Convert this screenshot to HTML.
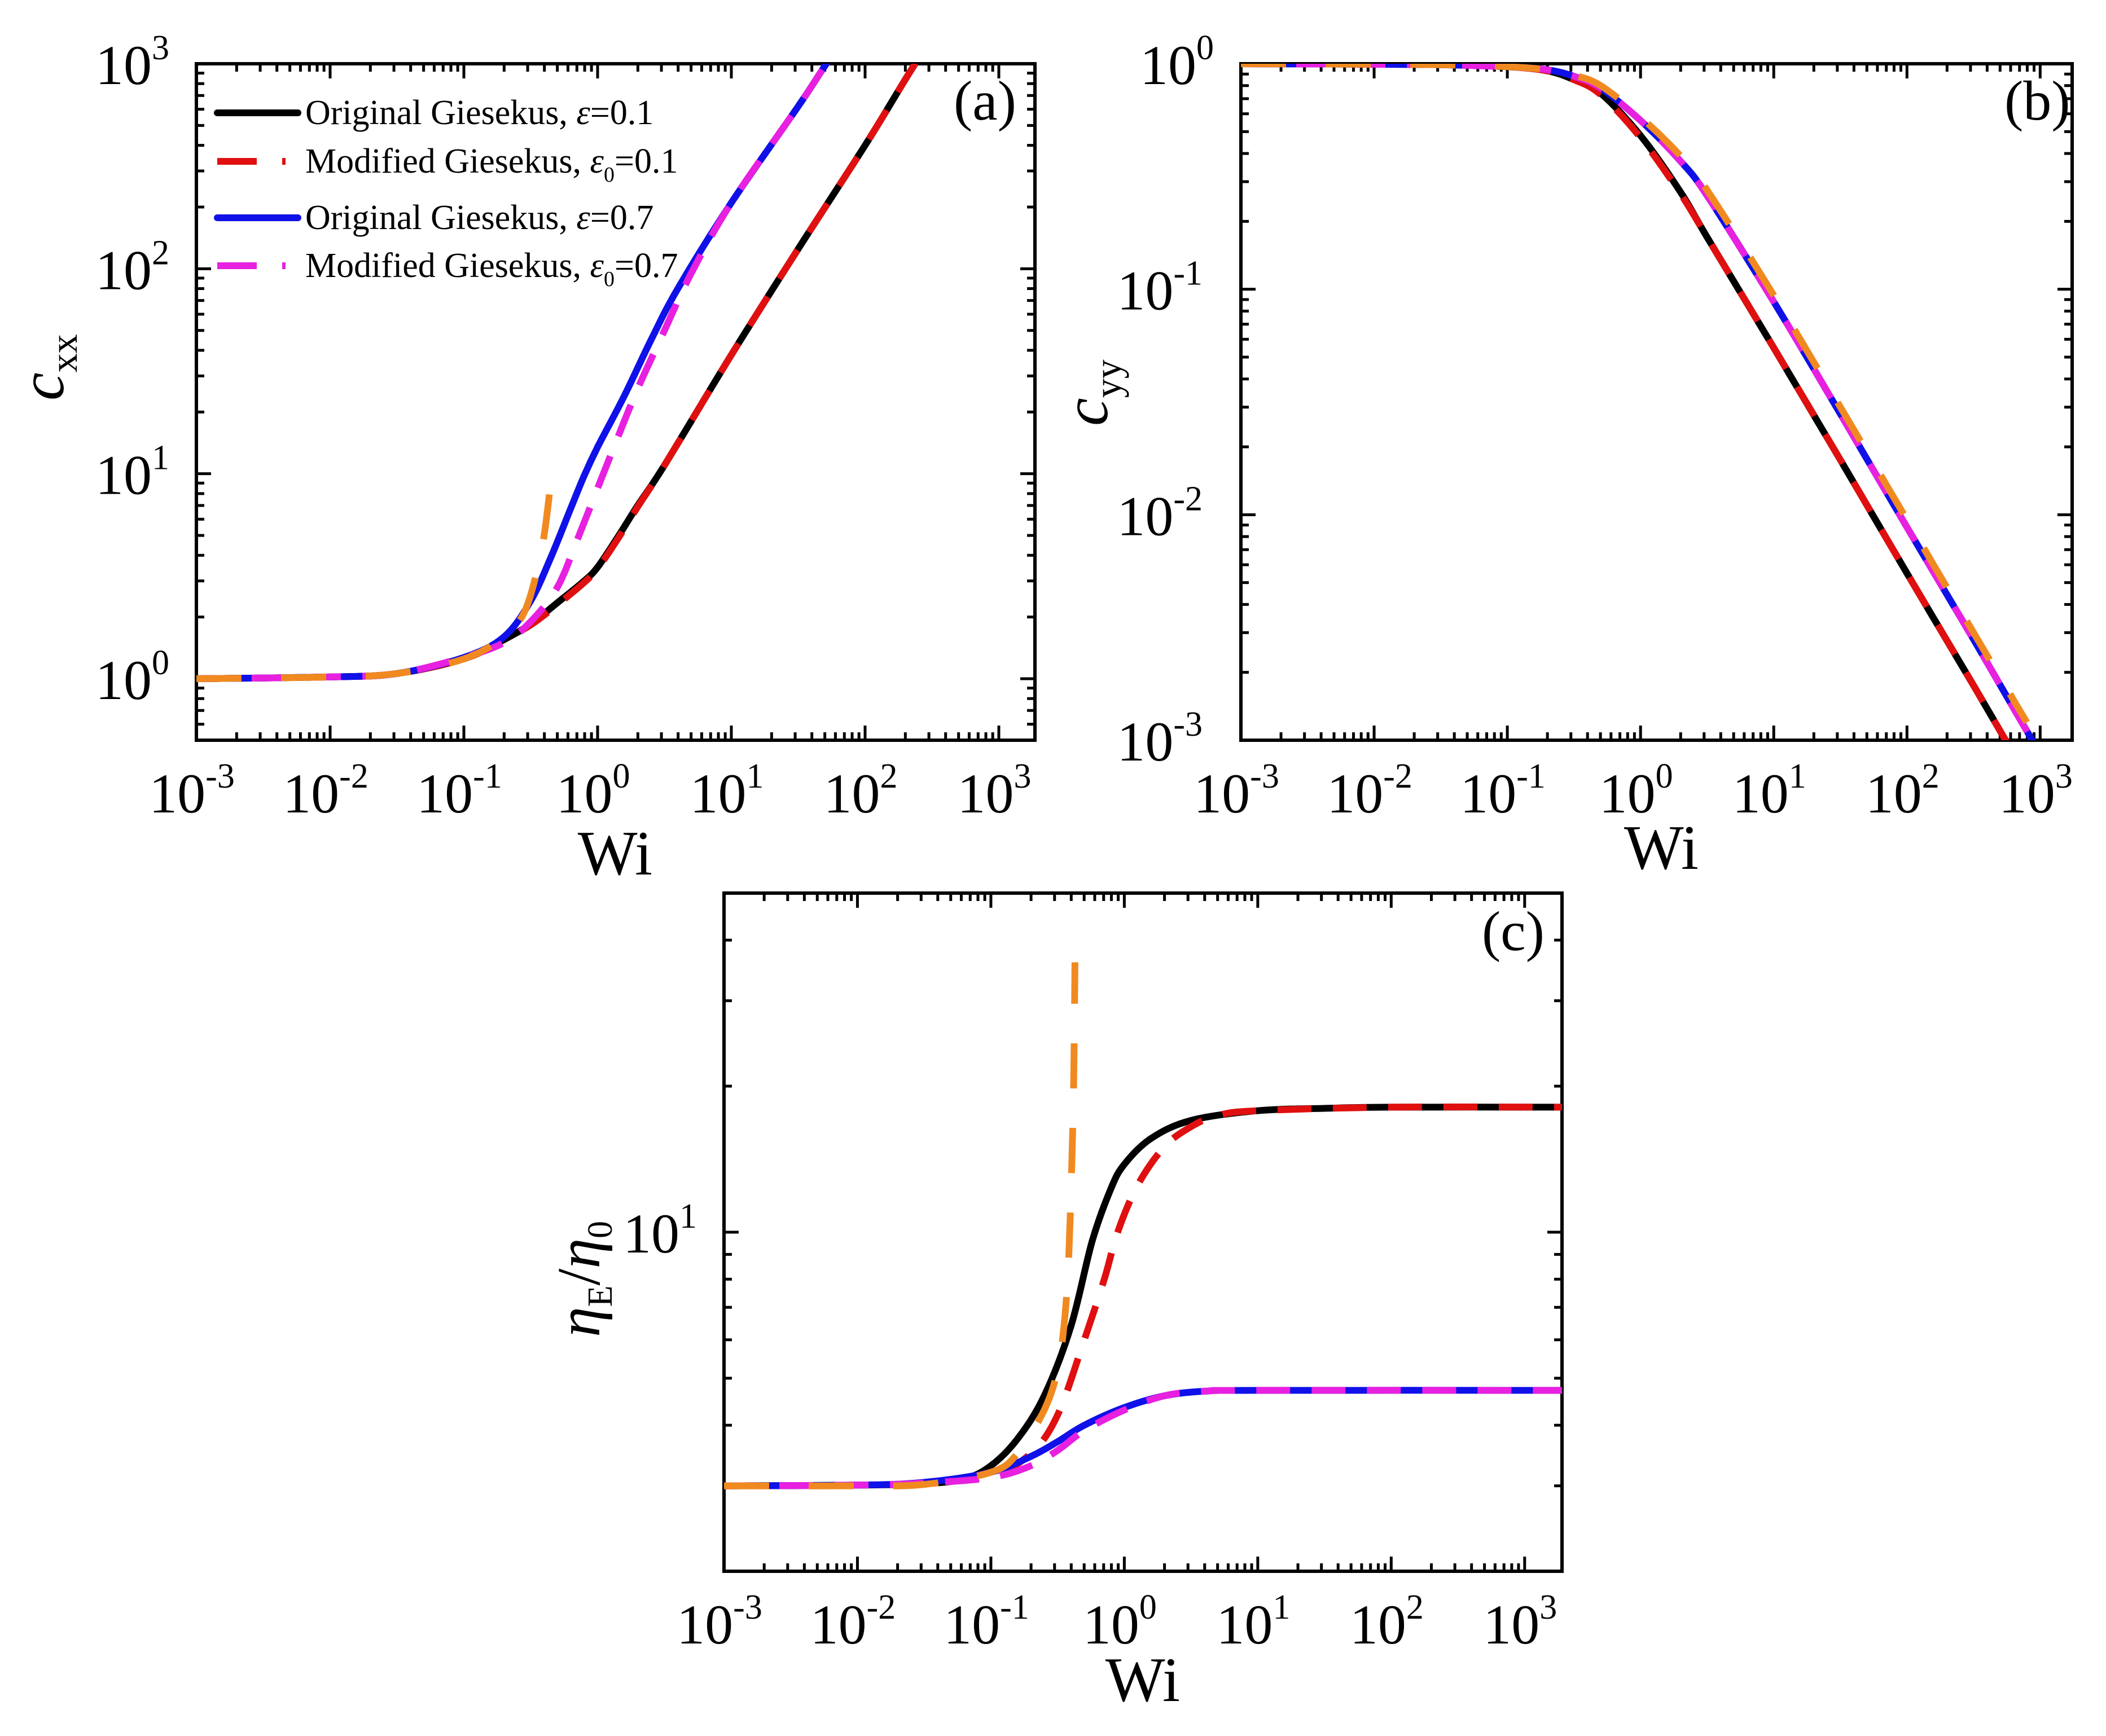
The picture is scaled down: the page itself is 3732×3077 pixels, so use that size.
<!DOCTYPE html>
<html><head><meta charset="utf-8">
<style>
html,body{margin:0;padding:0;background:#fff;}
svg{display:block;font-family:"Liberation Serif","DejaVu Serif",serif;}
</style></head>
<body>
<svg id="fig" width="3732" height="3077" viewBox="0 0 3732 3077" xmlns="http://www.w3.org/2000/svg">
<rect width="3732" height="3077" fill="#fff"/>
<defs>
<clipPath id="clipA"><rect x="348" y="113" width="1486" height="1199"/></clipPath>
<clipPath id="clipB"><rect x="2199" y="113" width="1473" height="1199"/></clipPath>
<clipPath id="clipC"><rect x="1283" y="1583" width="1485" height="1202"/></clipPath>
</defs>
<g id="panelA"></g>
<g id="panelB"></g>
<g id="panelC"></g>
<g id="legend">
  <line x1="385" y1="200" x2="528" y2="200" stroke="#000" stroke-width="12" stroke-linecap="round"/>
  <text x="541" y="220" font-size="62">Original Giesekus, <tspan font-style="italic">ε</tspan>=0.1</text>
  <line x1="385" y1="286" x2="528" y2="286" stroke="#e01010" stroke-width="12" stroke-dasharray="70 45 6 60"/>
  <text x="541" y="306" font-size="62">Modified Giesekus, <tspan font-style="italic">ε</tspan><tspan font-size="38" dy="16">0</tspan><tspan dy="-16">=0.1</tspan></text>
  <line x1="385" y1="386" x2="528" y2="386" stroke="#1010e8" stroke-width="12" stroke-linecap="round"/>
  <text x="541" y="406" font-size="62">Original Giesekus, <tspan font-style="italic">ε</tspan>=0.7</text>
  <line x1="385" y1="471" x2="528" y2="471" stroke="#e820e0" stroke-width="12" stroke-dasharray="70 45 6 60"/>
  <text x="541" y="491" font-size="62">Modified Giesekus, <tspan font-style="italic">ε</tspan><tspan font-size="38" dy="16">0</tspan><tspan dy="-16">=0.7</tspan></text>
</g>
</svg>
<script>
// ---------- Panel (a) data: c_xx vs Wi (log10 Wi) ----------
const aBlackX = [-3,-2,-1.5,-1,-0.7,-0.5,-0.3,-0.1,0,0.15,0.3,0.5,1,1.5,2,2.33,2.6];
const aBlackY = [1.0,1.02,1.06,1.25,1.55,1.85,2.35,3.0,3.5,4.9,7,11,38,125,400,900,1700];
const aRedX = [-3,-2,-1.5,-1,-0.7,-0.5,-0.3,-0.1,0,0.15,0.3,0.5,1,1.5,2,2.33,2.6];
const aRedY = [1.0,1.02,1.06,1.25,1.55,1.83,2.3,2.95,3.45,4.8,6.9,11,38,125,400,900,1700];
const aBlueX = [-3,-2,-1.5,-1,-0.7,-0.5,-0.35,-0.2,-0.1,0,0.2,0.4,0.6,1,1.5,1.71,2];
const aBlueY = [1.0,1.02,1.06,1.27,1.6,2.4,3.9,6.8,9.8,13.5,24,45,80,210,620,1000,1900];
const aMagX = [-3,-2,-1.5,-1,-0.7,-0.5,-0.3,-0.15,0,0.15,0.3,0.5,0.7,1,1.5,1.71,2];
const aMagY = [1.0,1.02,1.06,1.27,1.5,1.9,2.8,4.8,8.5,15,26,50,95,210,620,1000,1900];
const aOrgX = [-3,-2,-1.5,-1,-0.7,-0.55,-0.45,-0.4,-0.36,-0.33];
const aOrgY = [1.0,1.02,1.06,1.25,1.6,2.1,3.4,5,8,12];
// ---------- Panel (b) data: c_yy vs Wi ----------
const bBlackX = [-3,-2,-1.5,-1,-0.7,-0.5,-0.3,0,0.3,0.5,1,1.5,2,2.5,2.74,3];
const bBlackY = [1,0.995,0.99,0.97,0.93,0.85,0.74,0.48,0.27,0.17,0.055,0.0175,0.0055,0.00175,0.001,0.00055];
const bRedX = bBlackX.slice();
const bRedY = [1,0.995,0.99,0.97,0.93,0.85,0.73,0.47,0.265,0.17,0.055,0.0175,0.0055,0.00175,0.001,0.00055];
const bBlueX = [-3,-2,-1.5,-1,-0.7,-0.5,-0.3,0,0.3,0.5,1,1.5,2,2.5,2.94,3.2];
const bBlueY = [1,0.995,0.99,0.97,0.94,0.88,0.78,0.56,0.37,0.26,0.088,0.028,0.0088,0.0028,0.001,0.00055];
const bMagX = bBlueX.slice();
const bMagY = [1,0.995,0.99,0.97,0.94,0.88,0.78,0.56,0.37,0.26,0.088,0.028,0.0088,0.0028,0.001,0.00055];
const bOrgX = [-3,-2,-1.5,-1,-0.7,-0.5,-0.3,0,0.3,0.5,1,1.5,2,2.5,2.9];
const bOrgY = [1,0.995,0.99,0.97,0.94,0.89,0.8,0.58,0.39,0.275,0.094,0.03,0.0095,0.003,0.0012];
// ---------- Panel (c) data: eta_E/eta_0 vs Wi ----------
const cBlackX = [-3,-2,-1.5,-1.2,-1,-0.8,-0.6,-0.4,-0.24,-0.1,0,0.2,0.5,1,1.5,2,3.3];
const cBlackY = [3,3.01,3.03,3.1,3.3,3.75,4.6,6.4,9.6,12.3,13.8,15.6,17,17.8,18,18.1,18.1];
const cRedX = [-3,-2,-1.5,-1,-0.7,-0.5,-0.3,-0.15,-0.05,0.1,0.3,0.5,0.7,1,2,3.3];
const cRedY = [3,3.01,3.04,3.15,3.5,4.2,6,8,10,12.5,15,16.5,17.4,17.8,18.1,18.1];
const cBlueX = [-3,-2,-1.5,-1,-0.7,-0.5,-0.3,0,0.3,0.6,1,3.3];
const cBlueY = [3,3.01,3.05,3.2,3.45,3.7,4.0,4.35,4.6,4.7,4.72,4.72];
const cMagX = [-3,-2,-1.5,-1,-0.7,-0.5,-0.3,0,0.3,0.6,1,3.3];
const cMagY = [3,3.01,3.04,3.12,3.3,3.55,3.9,4.3,4.6,4.7,4.72,4.72];
const cOrgX = [-3,-2,-1.5,-1,-0.8,-0.6,-0.5,-0.45,-0.42,-0.4,-0.38,-0.37];
const cOrgY = [3,3.0,3.02,3.2,3.5,4.3,5.2,6.5,8.5,12,20,36];
// ---------- axis tick labels ----------
const xTickExps = [-3,-2,-1,0,1,2,3];
const aYTickExps = [0,1,2,3];
const bYTickExps = [-3,-2,-1,0];
const cYTickExps = [1];

const NS = "http://www.w3.org/2000/svg";
function mk(tag, attrs, parent){const e=document.createElementNS(NS,tag);for(const k in attrs)e.setAttribute(k,attrs[k]);parent.appendChild(e);return e;}

const panels = {
  a:{g:document.getElementById('panelA'),l:348,r:1834,t:113,b:1312,x0:-3,x1:3.27,y0:-0.3,y1:3,clip:'clipA'},
  b:{g:document.getElementById('panelB'),l:2199,r:3672,t:113,b:1312,x0:-3,x1:3.24,y0:-3,y1:0,clip:'clipB'},
  c:{g:document.getElementById('panelC'),l:1283,r:2768,t:1583,b:2785,x0:-3,x1:3.28,y0:Math.log10(2),y1:Math.log10(50),clip:'clipC'}
};
function sx(p,lx){return p.l+(lx-p.x0)/(p.x1-p.x0)*(p.r-p.l);}
function sy(p,v){return p.b-(Math.log10(v)-p.y0)/(p.y1-p.y0)*(p.b-p.t);}

function drawAxes(p, key){
  const g=p.g;
  const lo=Math.floor(p.x0), hi=Math.ceil(p.x1);
  for(let d=lo; d<=hi; d++){
    for(let m=1;m<=9;m++){
      const lx=d+Math.log10(m); if(lx<p.x0-1e-9||lx>p.x1+1e-9) continue;
      const x=sx(p,lx), len=(m===1)?26:14;
      const t1=mk('line',{x1:x,y1:p.b,x2:x,y2:p.b-len,stroke:'#000','stroke-width':5},g);
      
      
      const t2=mk('line',{x1:x,y1:p.t,x2:x,y2:p.t+len,stroke:'#000','stroke-width':5},g);
      
      
    }
  }
  const ylo=Math.floor(p.y0), yhi=Math.ceil(p.y1);
  for(let d=ylo; d<=yhi; d++){
    for(let m=1;m<=9;m++){
      const ly=d+Math.log10(m); if(ly<p.y0-1e-9||ly>p.y1+1e-9) continue;
      const y=sy(p,Math.pow(10,ly)), len=(m===1)?26:14;
      const t1=mk('line',{x1:p.l,y1:y,x2:p.l+len,y2:y,stroke:'#000','stroke-width':5},g);
      
      
      const t2=mk('line',{x1:p.r,y1:y,x2:p.r-len,y2:y,stroke:'#000','stroke-width':5},g);
      
      
    }
  }
  const frame=mk('rect',{x:p.l,y:p.t,width:p.r-p.l,height:p.b-p.t,fill:'none',stroke:'#000','stroke-width':6},g);
  
  
  xTickExps.forEach(e=>{
    const x=sx(p,e);
    const t=mk('text',{x:x-8,y:p.b+128,'font-size':100,'text-anchor':'middle'},g);
    
    
    t.appendChild(document.createTextNode('10'));
    const s=mk('tspan',{dy:-44,'font-size':62},t); s.textContent=String(e);
  });
  const yt = key==='a'?aYTickExps:(key==='b'?bYTickExps:cYTickExps);
  yt.forEach(e=>{
    const y=sy(p,Math.pow(10,e));
    const t=mk('text',{x:p.l-16-(e<0?52:32),y:y+36,'font-size':100,'text-anchor':'end'},g);
    
    
    t.appendChild(document.createTextNode('10'));
    const s=mk('tspan',{dy:-44,'font-size':62},t); s.textContent=String(e);
  });
}

function pathD(p,X,Y){
  const pts=X.map((lx,i)=>[sx(p,lx),sy(p,Y[i])]);
  let d='M'+pts[0][0].toFixed(1)+','+pts[0][1].toFixed(1);
  for(let i=0;i<pts.length-1;i++){
    const p0=pts[Math.max(0,i-1)],p1=pts[i],p2=pts[i+1],p3=pts[Math.min(pts.length-1,i+2)];
    const c1=[p1[0]+(p2[0]-p0[0])/6,p1[1]+(p2[1]-p0[1])/6];
    const c2=[p2[0]-(p3[0]-p1[0])/6,p2[1]-(p3[1]-p1[1])/6];
    d+=' C'+c1[0].toFixed(1)+','+c1[1].toFixed(1)+' '+c2[0].toFixed(1)+','+c2[1].toFixed(1)+' '+p2[0].toFixed(1)+','+p2[1].toFixed(1);
  }
  return d;
}
function series(p,X,Y,color,dash,name){
  const e=mk('path',{d:pathD(p,X,Y),fill:'none',stroke:color,'stroke-width':12,'clip-path':'url(#'+p.clip+')','stroke-linejoin':'round'},p.g);
  if(dash) e.setAttribute('stroke-dasharray',dash);
  
  
}
const BLACK='#000', RED='#e01010', BLUE='#1010e8', MAG='#e820e0', ORG='#f08a20';
const DASH='60 38', ODASH='80 70';

drawAxes(panels.a,'a');
series(panels.a,aBlackX,aBlackY,BLACK,null,'line-original-0.1');
series(panels.a,aRedX,aRedY,RED,DASH,'line-modified-0.1');
series(panels.a,aBlueX,aBlueY,BLUE,null,'line-original-0.7');
series(panels.a,aMagX,aMagY,MAG,DASH,'line-modified-0.7');
series(panels.a,aOrgX,aOrgY,ORG,ODASH,'line-ucm-limit');

drawAxes(panels.b,'b');
series(panels.b,bBlackX,bBlackY,BLACK,null,'line-original-0.1');
series(panels.b,bRedX,bRedY,RED,DASH,'line-modified-0.1');
series(panels.b,bBlueX,bBlueY,BLUE,null,'line-original-0.7');
series(panels.b,bMagX,bMagY,MAG,DASH,'line-modified-0.7');
series(panels.b,bOrgX,bOrgY,ORG,ODASH,'line-ucm-limit');

drawAxes(panels.c,'c');
series(panels.c,cBlackX,cBlackY,BLACK,null,'line-original-0.1');
series(panels.c,cRedX,cRedY,RED,DASH,'line-modified-0.1');
series(panels.c,cBlueX,cBlueY,BLUE,null,'line-original-0.7');
series(panels.c,cMagX,cMagY,MAG,DASH,'line-modified-0.7');
series(panels.c,cOrgX,cOrgY,ORG,ODASH,'line-ucm-limit');

const svg=document.getElementById('fig');
function label(txt,attrs,name,parts){
  const t=mk('text',attrs,svg);
  
  
  if(parts){parts.forEach(pt=>{const s=mk('tspan',pt.a||{},t);s.textContent=pt.t;});}
  else t.textContent=txt;
  return t;
}
label('(a)',{x:1690,y:212,'font-size':100},'panel-label-a');
label('(b)',{x:3552,y:212,'font-size':100},'panel-label-b');
label('(c)',{x:2626,y:1684,'font-size':100},'panel-label-c');
label('Wi',{x:1090,y:1550,'font-size':112,'text-anchor':'middle'},'x-axis-title-a');
label('Wi',{x:2944,y:1540,'font-size':112,'text-anchor':'middle'},'x-axis-title-b');
label('Wi',{x:2025,y:3015,'font-size':112,'text-anchor':'middle'},'x-axis-title-c');
label('',{transform:'translate(112,710) rotate(-90)','font-size':112},'y-axis-title-a',
  [{t:'c',a:{'font-style':'italic'}},{t:'xx',a:{'font-size':68,dy:24}}]);
label('',{transform:'translate(1962,755) rotate(-90)','font-size':112},'y-axis-title-b',
  [{t:'c',a:{'font-style':'italic'}},{t:'yy',a:{'font-size':68,dy:24}}]);
label('',{transform:'translate(1062,2370) rotate(-90)','font-size':108},'y-axis-title-c',
  [{t:'η',a:{'font-style':'italic'}},{t:'E',a:{'font-size':62,dy:22}},{t:'/',a:{dy:-22}},{t:'η',a:{'font-style':'italic'}},{t:'0',a:{'font-size':62,dy:22}}]);
</script>
</body></html>
